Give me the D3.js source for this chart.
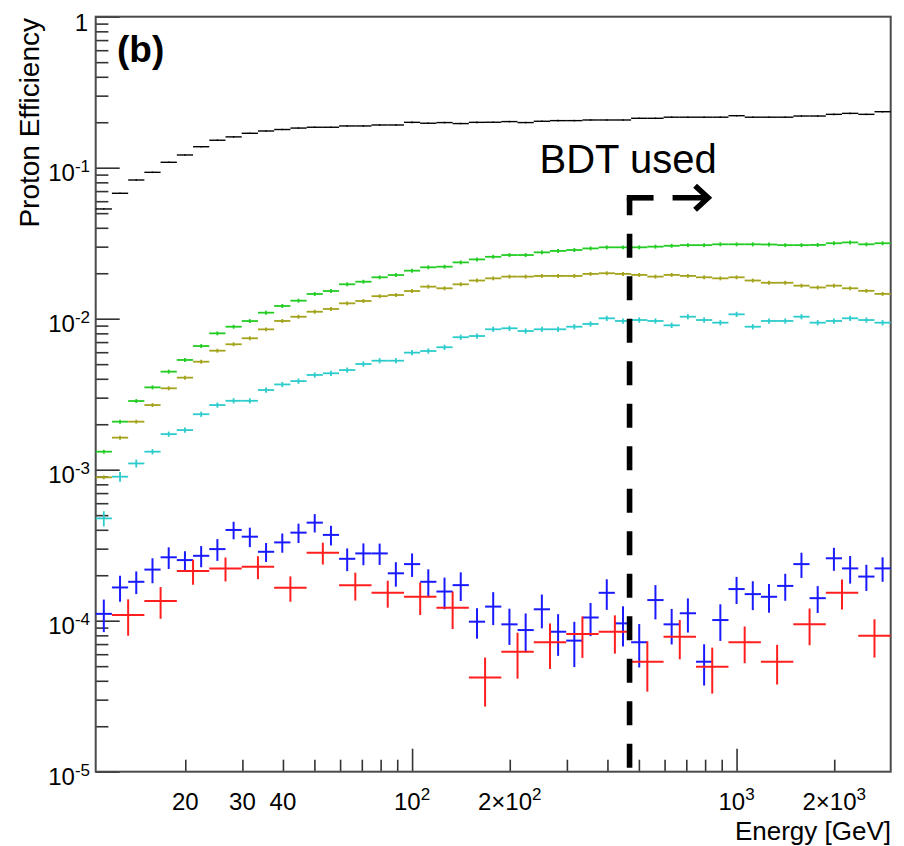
<!DOCTYPE html>
<html>
<head>
<meta charset="utf-8">
<script src="https://cdn.jsdelivr.net/npm/d3@7"></script>
<style>
	body { margin: 0; background: #fff; }
	svg text { font-family: "Liberation Sans", Arial, sans-serif; fill: #000; }
</style>
</head>
<body>
<svg id="viz"></svg>
<script>
// Fine binning: 0.05 decade bins from 10^1.025 GeV, coarse (red) binning: 0.1 decade bins
const fineEdgesLog = d3.range(50).map(i => 1.025 + 0.05 * i);
const coarseEdgesLog = d3.range(25).map(i => 1.075 + 0.1 * i);

// Proton efficiency per bin
const blackEff = [0.0533, 0.0677, 0.0829, 0.0932, 0.1086, 0.1214, 0.1377, 0.152, 0.160, 0.169,
	0.175, 0.179, 0.183, 0.1853, 0.1853, 0.189, 0.189, 0.1918, 0.1918, 0.1997,
	0.197, 0.199, 0.196, 0.1997, 0.200, 0.202, 0.199, 0.203, 0.205, 0.205,
	0.207, 0.207, 0.207, 0.2124, 0.2124, 0.216, 0.216, 0.216, 0.216, 0.221,
	0.216, 0.216, 0.216, 0.2199, 0.2199, 0.2256, 0.229, 0.2256, 0.2348];

const greenEff = [1.316e-3, 2.08e-3, 2.85e-3, 3.51e-3, 4.46e-3, 5.33e-3, 6.59e-3, 8.0e-3, 8.85e-3, 9.65e-3,
	1.096e-2, 1.214e-2, 1.316e-2, 1.458e-2, 1.525e-2, 1.69e-2, 1.758e-2, 1.88e-2, 1.946e-2, 2.08e-2,
	2.19e-2, 2.21e-2, 2.36e-2, 2.47e-2, 2.57e-2, 2.64e-2, 2.64e-2, 2.75e-2, 2.81e-2, 2.85e-2,
	2.92e-2, 2.97e-2, 2.97e-2, 2.97e-2, 3.0e-2, 3.04e-2, 3.07e-2, 3.07e-2, 3.11e-2, 3.11e-2,
	3.11e-2, 3.10e-2, 3.07e-2, 3.07e-2, 3.08e-2, 3.16e-2, 3.2e-2, 3.11e-2, 3.16e-2];

const oliveEff = [8.9e-4, 1.63e-3, 2.08e-3, 2.68e-3, 3.46e-3, 4.07e-3, 5.19e-3, 6.14e-3, 6.77e-3, 7.42e-3,
	8.5e-3, 9.66e-3, 1.03e-2, 1.112e-2, 1.16e-2, 1.264e-2, 1.31e-2, 1.41e-2, 1.435e-2, 1.525e-2,
	1.63e-2, 1.59e-2, 1.69e-2, 1.79e-2, 1.85e-2, 1.90e-2, 1.90e-2, 1.92e-2, 1.92e-2, 1.92e-2,
	1.98e-2, 2.0e-2, 1.98e-2, 1.95e-2, 1.90e-2, 1.95e-2, 1.92e-2, 1.88e-2, 1.85e-2, 1.88e-2,
	1.79e-2, 1.73e-2, 1.73e-2, 1.655e-2, 1.61e-2, 1.655e-2, 1.59e-2, 1.53e-2, 1.46e-2];

const cyanEff = [4.76e-4, 8.99e-4, 1.10e-3, 1.316e-3, 1.72e-3, 1.83e-3, 2.33e-3, 2.68e-3, 2.86e-3, 2.86e-3,
	3.37e-3, 3.67e-3, 3.86e-3, 4.24e-3, 4.35e-3, 4.57e-3, 5.01e-3, 5.27e-3, 5.27e-3, 5.96e-3,
	6.11e-3, 6.47e-3, 7.54e-3, 7.68e-3, 8.51e-3, 8.64e-3, 8.29e-3, 8.51e-3, 8.51e-3, 8.85e-3,
	9.23e-3, 1.006e-2, 9.66e-3, 9.8e-3, 9.66e-3, 9.04e-3, 1.031e-2, 9.8e-3, 9.41e-3, 1.069e-2,
	8.85e-3, 9.66e-3, 9.66e-3, 1.031e-2, 9.41e-3, 9.66e-3, 1.006e-2, 9.8e-3, 9.41e-3];

const blueEff = [1.11e-4, 1.66e-4, 1.81e-4, 2.18e-4, 2.63e-4, 2.52e-4, 2.69e-4, 2.98e-4, 3.99e-4, 3.6e-4,
	2.86e-4, 3.3e-4, 3.83e-4, 4.46e-4, 3.7e-4, 2.57e-4, 2.79e-4, 2.79e-4, 2.06e-4, 2.37e-4,
	1.81e-4, 1.56e-4, 1.72e-4, 9.85e-5, 1.24e-4, 9.46e-5, 8.67e-5, 1.19e-4, 8.45e-5, 7.38e-5,
	1.05e-4, 1.53e-4, 9.6e-5, 7.2e-5, 1.37e-4, 9.46e-5, 1.12e-4, 5.35e-5, 1.01e-4, 1.62e-4,
	1.50e-4, 1.44e-4, 1.70e-4, 2.37e-4, 1.41e-4, 2.59e-4, 2.22e-4, 1.96e-4, 2.22e-4];

const blueErr = [2.7e-5, 3.25e-5, 3.1e-5, 4.1e-5, 4.3e-5, 3.65e-5, 4.3e-5, 4.9e-5, 5.3e-5, 5.3e-5,
	4.1e-5, 4.8e-5, 5.6e-5, 6.2e-5, 5.5e-5, 4.4e-5, 4.6e-5, 4.5e-5, 3.8e-5, 4.2e-5,
	3.8e-5, 3.7e-5, 3.7e-5, 2.25e-5, 3.05e-5, 2.55e-5, 2.5e-5, 3.0e-5, 2.6e-5, 2.45e-5,
	2.6e-5, 3.5e-5, 2.85e-5, 2.3e-5, 3.5e-5, 2.5e-5, 2.85e-5, 1.63e-5, 2.75e-5, 3.3e-5,
	3.25e-5, 3.1e-5, 3.45e-5, 4.5e-5, 2.85e-5, 4.5e-5, 4.6e-5, 3.85e-5, 4.1e-5];

const redEff = [1.09e-4, 1.35e-4, 2.13e-4, 2.22e-4, 2.28e-4, 1.65e-4, 2.82e-4, 1.72e-4,
	1.53e-4, 1.44e-4, 1.22e-4, 4.2e-5, 6.23e-5, 7.19e-5, 8.17e-5, 8.45e-5,
	5.35e-5, 7.83e-5, 4.96e-5, 7.19e-5, 5.35e-5, 9.46e-5, 1.53e-4, 7.96e-5];

const redErr = [2.95e-5, 3.2e-5, 4.0e-5, 4.0e-5, 3.95e-5, 3.15e-5, 4.65e-5, 3.6e-5,
	3.1e-5, 3.5e-5, 3.4e-5, 1.5e-5, 2.1e-5, 2.4e-5, 2.5e-5, 2.4e-5,
	1.96e-5, 2.28e-5, 1.67e-5, 1.96e-5, 1.57e-5, 2.58e-5, 3.45e-5, 2.26e-5];

// relative statistical error of the high statistics curves (error ticks are tiny)
const relErr = { black: 0.012, green: 0.03, olive: 0.03, cyan: 0.04 };
// the first cyan bins have visibly larger errors
const cyanFirstErr = [5.5e-5, 6.8e-5, 6.6e-5];

// Axis labels
const xLabelValues = [20, 30, 40, 100, 200, 1000, 2000];
const xLabelBase = ["20", "30", "40", "10", "2\u00d710", "10", "2\u00d710"];
const xLabelSup = ["", "", "", "2", "2", "3", "3"];
const yLabelValues = [1e-5, 1e-4, 1e-3, 1e-2, 1e-1, 1];
const yLabelBase = ["10", "10", "10", "10", "10", "1"];
const yLabelSup = ["-5", "-4", "-3", "-2", "-1", ""];

// BDT annotation (energy of the cut, top of the line, arrow span)
const bdtEnergy = 468;
const bdtTop = 0.0632;
const bdtArrow = [635, 817];
const bdtText = { text: "BDT used", energy: 247, eff: 0.0922 };

let drawEverything = function() {
	const width = 904;
	const height = 846;

	const margin = {
		top: 16.7,
		right: 13.3,
		bottom: 74.3,
		left: 95.7
	};

	const plotWidth = width - margin.left - margin.right;
	const plotHeight = height - margin.top - margin.bottom;

	const svg = d3.select("body").select("svg#viz")
		.attr("width", width)
		.attr("height", height);

	const plot = svg.append("g").attr("id", "plot")
		.attr("transform", translate(margin.left, margin.top));

	const x = d3.scaleLog()
		.domain([10 ** 1.025, 10 ** 3.475])
		.range([0, plotWidth]);

	const y = d3.scaleLog()
		.domain([1e-5, 1])
		.range([plotHeight, 0]);

	const fineEdges = fineEdgesLog.map(d => 10 ** d);
	const coarseEdges = coarseEdgesLog.map(d => 10 ** d);

	// build error-bar rows from the arrays
	let makeRows = function(values, errors, edges) {
		return values.map((v, i) => ({
			lo: edges[i],
			hi: edges[i + 1],
			mid: Math.sqrt(edges[i] * edges[i + 1]),
			v: v,
			e: errors[i]
		}));
	};

	let cyanErr = cyanEff.map((v, i) => i < cyanFirstErr.length ? cyanFirstErr[i] : v * relErr.cyan);

	const series = [
		{ name: "black", color: "#000000", width: 1.4, rows: makeRows(blackEff, blackEff.map(v => v * relErr.black), fineEdges) },
		{ name: "green", color: "#22cc22", width: 1.8, rows: makeRows(greenEff, greenEff.map(v => v * relErr.green), fineEdges) },
		{ name: "olive", color: "#a3a31c", width: 1.8, rows: makeRows(oliveEff, oliveEff.map(v => v * relErr.olive), fineEdges) },
		{ name: "cyan", color: "#2ccccc", width: 1.8, rows: makeRows(cyanEff, cyanErr, fineEdges) },
		{ name: "blue", color: "#1a1aff", width: 2, rows: makeRows(blueEff, blueErr, fineEdges) },
		{ name: "red", color: "#ff1e1e", width: 2, rows: makeRows(redEff, redErr, coarseEdges) }
	];

	drawAxes();
	drawSeries();
	drawAnnotation();
	drawLabels();

	function drawSeries() {
		series.forEach(function(s) {
			let g = plot.append("g").attr("class", "series-" + s.name)
				.attr("stroke", s.color)
				.attr("stroke-width", s.width);

			g.selectAll("line.h")
				.data(s.rows)
				.join("line")
				.attr("class", "h")
				.attr("x1", d => x(d.lo))
				.attr("x2", d => x(d.hi))
				.attr("y1", d => y(d.v))
				.attr("y2", d => y(d.v));

			g.selectAll("line.v")
				.data(s.rows)
				.join("line")
				.attr("class", "v")
				.attr("x1", d => x(d.mid))
				.attr("x2", d => x(d.mid))
				.attr("y1", d => y(d.v + d.e))
				.attr("y2", d => y(Math.max(d.v - d.e, 1e-6)));
		});
	}

	function drawAxes() {
		let decadeX = x.ticks().filter(d => Math.abs(Math.log10(d) - Math.round(Math.log10(d))) < 1e-9);
		let otherX = x.ticks().filter(d => decadeX.indexOf(d) < 0);

		plot.append("g").attr("class", "x-long")
			.attr("transform", translate(0, plotHeight))
			.call(d3.axisBottom(x).tickValues(decadeX).tickSize(-23).tickFormat(""));
		plot.append("g").attr("class", "x-short")
			.attr("transform", translate(0, plotHeight))
			.call(d3.axisBottom(x).tickValues(otherX).tickSize(-12).tickFormat(""));

		let decadeY = yLabelValues;
		let otherY = y.ticks().filter(d => decadeY.every(t => Math.abs(t - d) / t > 1e-6));

		plot.append("g").attr("class", "y-long")
			.call(d3.axisLeft(y).tickValues(decadeY).tickSize(-24).tickFormat(""));
		plot.append("g").attr("class", "y-short")
			.call(d3.axisLeft(y).tickValues(otherY).tickSize(-12.7).tickFormat(""));

		plot.selectAll(".domain").remove();
		plot.selectAll(".tick line").attr("stroke", "#333").attr("stroke-width", 1.6);

		// frame
		plot.append("rect")
			.attr("width", plotWidth)
			.attr("height", plotHeight)
			.attr("fill", "none")
			.attr("stroke", "#4a4a4a")
			.attr("stroke-width", 2);

		// x tick labels
		let xl = svg.append("g").attr("class", "x-labels")
			.attr("transform", translate(margin.left, 0))
			.selectAll("text")
			.data(xLabelValues)
			.join("text")
			.attr("x", d => x(d))
			.attr("y", 810)
			.attr("text-anchor", "middle")
			.attr("font-size", 24);
		xl.append("tspan").text((d, i) => xLabelBase[i]);
		xl.append("tspan")
			.attr("dy", -10)
			.attr("font-size", 17)
			.text((d, i) => xLabelSup[i]);

		// y tick labels
		let yl = svg.append("g").attr("class", "y-labels")
			.attr("transform", translate(0, margin.top))
			.selectAll("text")
			.data(yLabelValues)
			.join("text")
			.attr("x", (d, i) => yLabelSup[i] ? 90 : 88)
			.attr("y", (d, i) => y(d) + (yLabelSup[i] ? 13.5 : 14.5))
			.attr("text-anchor", "end")
			.attr("font-size", 24);
		yl.append("tspan").text((d, i) => yLabelBase[i]);
		yl.append("tspan")
			.attr("dy", -9)
			.attr("font-size", 17)
			.text((d, i) => yLabelSup[i]);
	}

	function drawAnnotation() {
		let g = plot.append("g").attr("id", "bdt")
			.attr("stroke", "#000")
			.attr("fill", "none")
			.attr("stroke-width", 5.6);

		let xb = x(bdtEnergy);
		let yt = y(bdtTop);

		// dashed vertical line down to the x axis
		g.append("line")
			.attr("x1", xb).attr("x2", xb)
			.attr("y1", yt).attr("y2", plotHeight)
			.attr("stroke-dasharray", "24,18.5")
			.attr("stroke-dashoffset", 6.5);

		// corner piece
		g.append("line")
			.attr("x1", xb - 2.8).attr("x2", xb + 24)
			.attr("y1", yt).attr("y2", yt);

		// arrow
		let xa0 = x(bdtArrow[0]);
		let xa1 = x(bdtArrow[1]);
		g.append("line")
			.attr("x1", xa0).attr("x2", xa1 - 3)
			.attr("y1", yt).attr("y2", yt);
		g.append("path")
			.attr("stroke-linejoin", "miter")
			.attr("d", "M" + (xa1 - 13) + "," + (yt - 12) + "L" + xa1 + "," + yt + "L" + (xa1 - 13) + "," + (yt + 12));

		plot.append("text")
			.attr("x", x(bdtText.energy))
			.attr("y", y(bdtText.eff))
			.attr("font-family", "Lato, 'Open Sans', sans-serif")
			.attr("font-size", 40)
			.text(bdtText.text);
	}

	function drawLabels() {
		svg.append("text")
			.attr("x", 117)
			.attr("y", 62)
			.attr("font-size", 37)
			.attr("font-weight", "bold")
			.text("(b)");

		svg.append("text")
			.attr("transform", translate(39, 18) + " rotate(-90)")
			.attr("text-anchor", "end")
			.attr("font-size", 28)
			.text("Proton Efficiency");

		svg.append("text")
			.attr("x", 891)
			.attr("y", 840)
			.attr("text-anchor", "end")
			.attr("font-size", 26)
			.text("Energy [GeV]");
	}
};

let translate = function(x, y) {
	return 'translate(' + x + ',' + y + ')';
};

drawEverything();
</script>
</body>
</html>
